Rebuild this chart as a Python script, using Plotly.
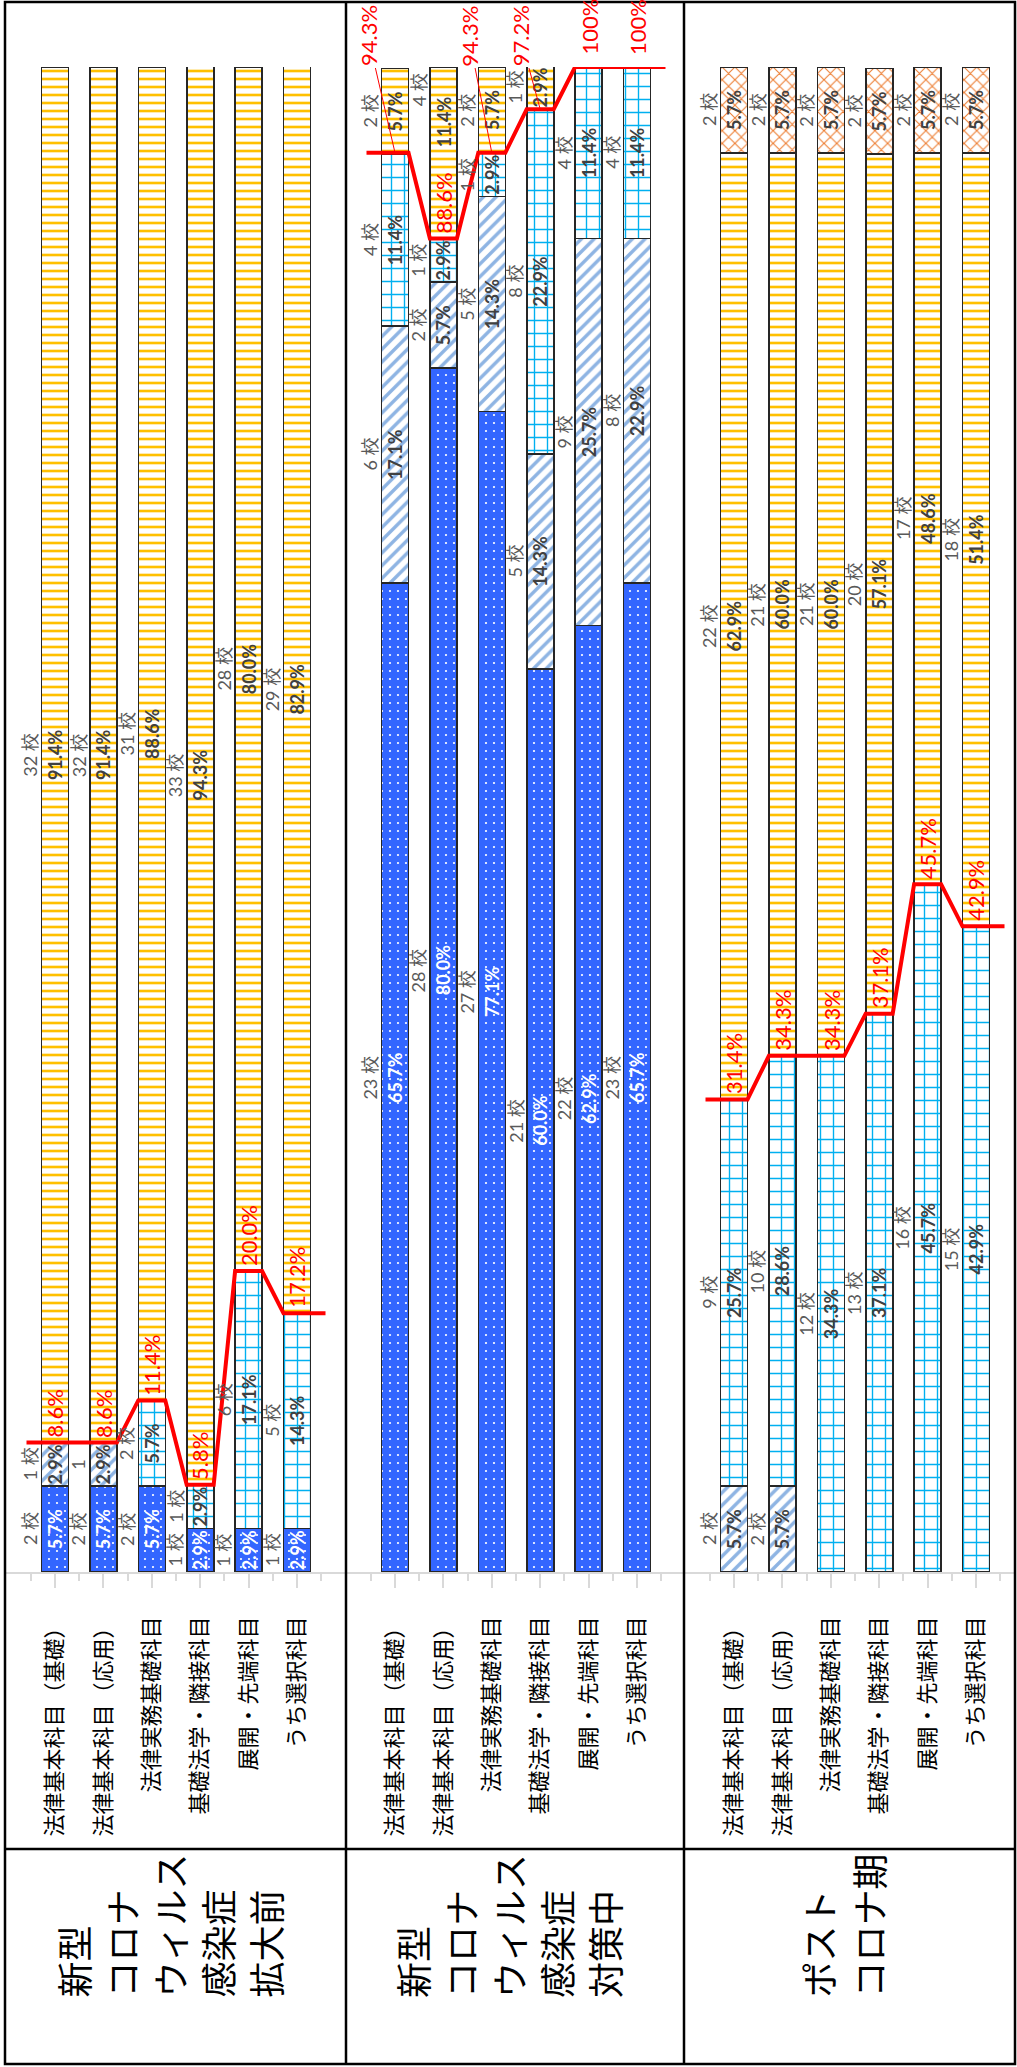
import plotly.graph_objects as go

# ---------------- data ----------------
categories = ["法律基本科目（基礎）", "法律基本科目（応用）", "法律実務基礎科目",
              "基礎法学・隣接科目", "展開・先端科目", "うち選択科目"]
period_labels = [["新型", "コロナ", "ウィルス", "感染症", "拡大前"],
                 ["新型", "コロナ", "ウィルス", "感染症", "対策中"],
                 ["ポスト", "コロナ期"]]
series_names = ["区分1", "区分2", "区分3", "区分4", "区分5"]

# panel 1 : before the spread (percent of schools / number of schools)
pre_blue = [5.7, 5.7, 5.7, 2.9, 2.9, 2.9]
pre_diag = [2.9, 2.9, 0, 0, 0, 0]
pre_grid = [0, 0, 5.7, 2.9, 17.1, 14.3]
pre_yellow = [91.4, 91.4, 88.6, 94.3, 80.0, 82.9]
pre_orange = [0, 0, 0, 0, 0, 0]
pre_blue_n = [2, 2, 2, 1, 1, 1]
pre_diag_n = [1, 1, 0, 0, 0, 0]
pre_grid_n = [0, 0, 2, 1, 6, 5]
pre_yellow_n = [32, 32, 31, 33, 28, 29]
pre_orange_n = [0, 0, 0, 0, 0, 0]
pre_rate = [8.6, 8.6, 11.4, 5.8, 20.0, 17.2]

# panel 2 : during countermeasures
dur_blue = [65.7, 80.0, 77.1, 60.0, 62.9, 65.7]
dur_diag = [17.1, 5.7, 14.3, 14.3, 25.7, 22.9]
dur_grid = [11.4, 2.9, 2.9, 22.9, 11.4, 11.4]
dur_yellow = [5.7, 11.4, 5.7, 2.9, 0, 0]
dur_orange = [0, 0, 0, 0, 0, 0]
dur_blue_n = [23, 28, 27, 21, 22, 23]
dur_diag_n = [6, 2, 5, 5, 9, 8]
dur_grid_n = [4, 1, 1, 8, 4, 4]
dur_yellow_n = [2, 4, 2, 1, 0, 0]
dur_orange_n = [0, 0, 0, 0, 0, 0]
dur_rate = [94.3, 88.6, 94.3, 97.2, 100, 100]

# panel 3 : post-corona
post_blue = [0, 0, 0, 0, 0, 0]
post_diag = [5.7, 5.7, 0, 0, 0, 0]
post_grid = [25.7, 28.6, 34.3, 37.1, 45.7, 42.9]
post_yellow = [62.9, 60.0, 60.0, 57.1, 48.6, 51.4]
post_orange = [5.7, 5.7, 5.7, 5.7, 5.7, 5.7]
post_blue_n = [0, 0, 0, 0, 0, 0]
post_diag_n = [2, 2, 0, 0, 0, 0]
post_grid_n = [9, 10, 12, 13, 16, 15]
post_yellow_n = [22, 21, 21, 20, 17, 18]
post_orange_n = [2, 2, 2, 2, 2, 2]
post_rate = [31.4, 34.3, 34.3, 37.1, 45.7, 42.9]

panels = [
    dict(pct=[pre_blue, pre_diag, pre_grid, pre_yellow, pre_orange],
         cnt=[pre_blue_n, pre_diag_n, pre_grid_n, pre_yellow_n, pre_orange_n],
         rate=pre_rate),
    dict(pct=[dur_blue, dur_diag, dur_grid, dur_yellow, dur_orange],
         cnt=[dur_blue_n, dur_diag_n, dur_grid_n, dur_yellow_n, dur_orange_n],
         rate=dur_rate),
    dict(pct=[post_blue, post_diag, post_grid, post_yellow, post_orange],
         cnt=[post_blue_n, post_diag_n, post_grid_n, post_yellow_n, post_orange_n],
         rate=post_rate),
]

# ---------------- styles / layout geometry ----------------
W, H = 1017, 2067
NUM_FONT = "Lato, 'Noto Sans CJK JP', sans-serif"
JP_FONT = "'Noto Sans CJK JP', sans-serif"
styles = [
    dict(shape=".", bg="#3366FF", fg="#FFFFFF", size=8, sol=0.06, tc="#FFFFFF"),
    dict(shape="/", bg="#FFFFFF", fg="#8EB4E3", size=9, sol=0.38, tc="#404040"),
    dict(shape="+", bg="#FFFFFF", fg="#00B0F0", size=13, sol=0.2, tc="#404040"),
    dict(shape="-", bg="#FFFFFF", fg="#FFC000", size=8, sol=0.33, tc="#404040"),
    dict(shape="x", bg="#FFFFFF", fg="#ED7D31", size=9, sol=0.22, tc="#404040"),
]
px_domains = [(5, 346), (346, 684), (684, 1015)]
first_center = [50, 49, 50]
unit = 48.4
bar_w = 27 / unit
ext = 15 / unit
y_top_px, y_bot_px = 67, 1572
y_dom = [(H - y_bot_px) / H, (H - y_top_px) / H]
px_per_pct = (y_bot_px - y_top_px) / 100

BAR_TXT = 18
CNT_TXT = 18
RED_TXT = 22
CAT_TXT = 22
GRP_TXT = 36

# per-label tweaks (panel, series, bar)
count_text_override = {(0, 1, 1): "1"}
label_shift = {(1, 3, 1): 31}
count_shift = {(1, 3, 1): 63}
# red rate label placement in panel 2 (text x offset in px / None -> inside bar)
dur_callout = [-27, None, -23, -20, "top", "top"]
callout_center_px = 36

fig = go.Figure()
annotations = []
shapes = []

for p, pdata in enumerate(panels):
    xn = "x" if p == 0 else f"x{p + 1}"
    yn = "y" if p == 0 else f"y{p + 1}"
    xs = list(range(len(categories)))
    n = len(categories)
    base = [0.0] * n
    for s, (vals, cnts) in enumerate(zip(pdata["pct"], pdata["cnt"])):
        st = styles[s]
        yv = [v if v > 0 else None for v in vals]
        texts = []
        for i, v in enumerate(vals):
            if v > 0 and (p, s, i) not in label_shift:
                texts.append(f"{v:.1f}%")
            else:
                texts.append("")
            if v > 0:
                mid = base[i] + v / 2
                if (p, s, i) in label_shift:
                    annotations.append(dict(
                        x=i, y=mid, xref=xn, yref=yn, text=f"{v:.1f}%",
                        showarrow=False, textangle=-90, yshift=label_shift[(p, s, i)],
                        font=dict(family=NUM_FONT, size=BAR_TXT, color=st["tc"], weight="bold")))
                ctext = count_text_override.get((p, s, i), f"{cnts[i]} 校")
                annotations.append(dict(
                    x=i, y=mid, xref=xn, yref=yn, text=ctext, showarrow=False,
                    textangle=-90, xshift=-25, yshift=count_shift.get((p, s, i), 0),
                    font=dict(family=NUM_FONT, size=CNT_TXT, color="#595959")))
        fig.add_trace(go.Bar(
            x=xs, y=yv, name=series_names[s], width=bar_w,
            xaxis=xn, yaxis=yn, showlegend=False, hoverinfo="skip",
            marker=dict(color=st["bg"],
                        pattern=dict(shape=st["shape"], fgcolor=st["fg"], bgcolor=st["bg"],
                                     size=st["size"], solidity=st["sol"], fillmode="replace"),
                        line=dict(color="#262626", width=1.6)),
            text=texts, texttemplate="%{text}", textposition="inside",
            insidetextanchor="middle", textangle=-90, constraintext="none",
            textfont=dict(family=NUM_FONT, size=BAR_TXT, color=st["tc"], weight="bold"),
        ))
        base = [b + v for b, v in zip(base, vals)]

    # red step line of the rate
    lx, ly = [], []
    for i, r in enumerate(pdata["rate"]):
        left = i - bar_w / 2 - (ext if i == 0 else 0)
        right = i + bar_w / 2 + (ext if i == n - 1 else 0)
        lx += [left, right]
        ly += [r, r]
    fig.add_trace(go.Scatter(x=lx, y=ly, mode="lines", xaxis=xn, yaxis=yn,
                             line=dict(color="#FF0000", width=4), showlegend=False,
                             hoverinfo="skip", cliponaxis=False))

    for i, r in enumerate(pdata["rate"]):
        txt = "100%" if r >= 100 else f"{r:.1f}%"
        rf = dict(family=NUM_FONT, size=RED_TXT, color="#FF0000")
        mode = dur_callout[i] if p == 1 else None
        if mode is None or mode == "top":
            annotations.append(dict(x=i, y=r, xref=xn, yref=yn, text=txt, showarrow=False,
                                    textangle=-90, yanchor="bottom",
                                    yshift=10 if mode == "top" else 3, font=rf))
        else:
            point_px = y_bot_px - r * px_per_pct
            annotations.append(dict(x=i, y=r, xref=xn, yref=yn, text=txt, showarrow=True,
                                    arrowhead=0, arrowwidth=1, arrowcolor="#FF0000",
                                    ax=mode, ay=callout_center_px - point_px, standoff=0,
                                    textangle=-90, font=rf))

    d0, d1 = px_domains[p]
    left_units = -first_center[p] / unit
    rng = [left_units, left_units + (d1 - d0) / unit]
    fig.update_layout(**{
        ("xaxis" if p == 0 else f"xaxis{p + 1}"): dict(
            domain=[d0 / W, d1 / W], range=rng, anchor=yn,
            tickmode="array", tickvals=xs, ticktext=categories, tickangle=-90,
            tickfont=dict(family=JP_FONT, size=CAT_TXT, color="#000000"),
            showline=True, linecolor="#D9D9D9", linewidth=1.5,
            ticks="outside", ticklen=14, tickcolor="#D9D9D9", tickwidth=1.5,
            ticklabelstandoff=20,
            minor=dict(tickvals=[k - 0.5 for k in range(n + 1)], ticks="outside",
                       ticklen=7, tickcolor="#D9D9D9", tickwidth=1.5),
            showgrid=False, zeroline=False, fixedrange=True),
        ("yaxis" if p == 0 else f"yaxis{p + 1}"): dict(
            domain=y_dom, range=[0, 100], anchor=xn, visible=False, fixedrange=True),
    })
    shapes.append(dict(type="line", xref=f"{xn} domain", x0=0, x1=1, yref=yn,
                       ysizemode="pixel", yanchor=0, y0=-7, y1=-7,
                       line=dict(color="#D9D9D9", width=1.5)))
    # period label, one annotation per column
    lines = period_labels[p]
    spacing = 48 if len(lines) > 2 else 50
    for k, line in enumerate(lines):
        annotations.append(dict(
            x=(d0 + d1) / 2 / W, y=(H - 2000) / H, xref="paper", yref="paper",
            xshift=(k - (len(lines) - 1) / 2) * spacing - 7,
            text=line, showarrow=False, textangle=-90,
            xanchor="center", yanchor="bottom",
            font=dict(family=JP_FONT, size=GRP_TXT, color="#000000")))

# frame
frame = dict(color="#000000", width=2.5)
shapes += [
    dict(type="rect", xref="paper", yref="paper", x0=5 / W, x1=1015 / W,
         y0=(H - 2064) / H, y1=(H - 2) / H, line=frame),
    dict(type="line", xref="paper", yref="paper", x0=346 / W, x1=346 / W,
         y0=(H - 2064) / H, y1=(H - 2) / H, line=frame),
    dict(type="line", xref="paper", yref="paper", x0=684 / W, x1=684 / W,
         y0=(H - 2064) / H, y1=(H - 2) / H, line=frame),
    dict(type="line", xref="paper", yref="paper", x0=5 / W, x1=1015 / W,
         y0=(H - 1849) / H, y1=(H - 1849) / H, line=frame),
]

fig.update_layout(
    width=W, height=H, margin=dict(l=0, r=0, t=0, b=0),
    barmode="stack", plot_bgcolor="#FFFFFF", paper_bgcolor="#FFFFFF",
    annotations=annotations, shapes=shapes, showlegend=False,
)

fig.write_html("out.html")
